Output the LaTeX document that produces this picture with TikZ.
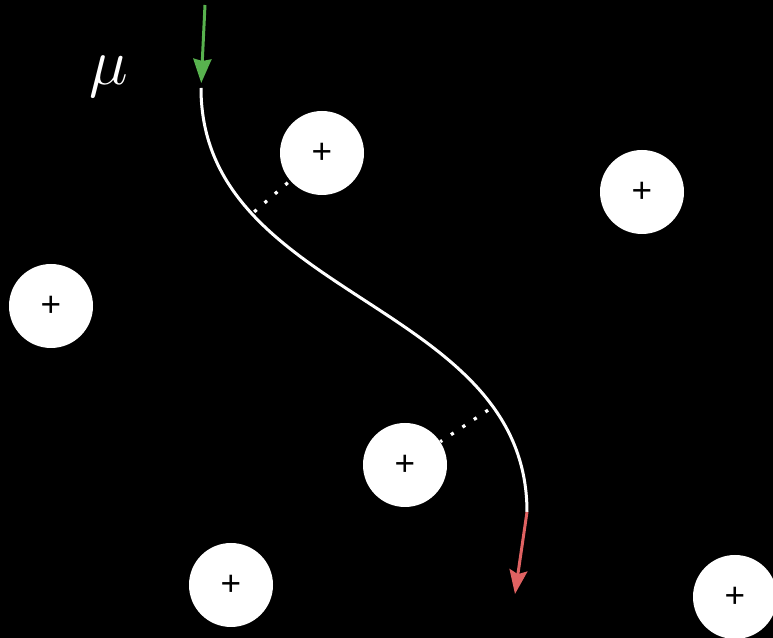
\documentclass[tikz,border=0pt]{standalone}
\usepackage{fontspec}
\newfontfamily\plusfont{Liberation Sans}
\usepackage{tikz}
\usetikzlibrary{arrows.meta, positioning}
\definecolor{ChargeWhite}{RGB}{255, 255, 255}
\definecolor{InGreen}{RGB}{88, 178, 78}
\definecolor{OutRed}{RGB}{224, 98, 98}

\begin{document}
\begin{tikzpicture}[
                ion/.style={circle, fill=ChargeWhite, minimum size=1.68cm, inner sep=0pt, text=black, font=\plusfont\fontsize{20}{20}\selectfont},
                track/.style={draw=ChargeWhite, line width=0.06cm},
                arrowin/.style={draw=InGreen, line width=0.06cm, -{Stealth[length=0.48cm, width=0.36cm, inset=0.04cm]}},
                arrowout/.style={draw=OutRed, line width=0.06cm, -{Stealth[length=0.48cm, width=0.36cm, inset=0.08cm]}},
                kick/.style={draw=ChargeWhite, line width=0.065cm, dash pattern=on 0.065cm off 0.21cm}
            ]
                \fill[black] (0,0) rectangle (15.46,12.76);
                \useasboundingbox (0,0) rectangle (15.46,12.76);

                \node (i1) [ion] at (6.44, 9.70) {\raisebox{-1pt}{+}};
                \node (i2) [ion] at (12.84, 8.92) {\raisebox{-1pt}{+}};
                \node (i3) [ion] at (1.02, 6.64) {\raisebox{-1pt}{+}};
                \node (i4) [ion] at (8.10, 3.46) {\raisebox{-1pt}{+}};
                \node (i5) [ion] at (4.62, 1.06) {\raisebox{-1pt}{+}};
                \node (i6) [ion] at (14.70, 0.82) {\raisebox{-1pt}{+}};

                \node (mu) [text=ChargeWhite, font=\Huge, scale=1.5] at (2.18, 11.22) {$\mu$};

                \coordinate (in) at (4.10, 12.66);
                \coordinate (start) at (4.02, 11.00);
                \coordinate (stop) at (10.54, 2.52);
                \coordinate (out) at (10.30, 0.88);

                \draw [track] (start) .. controls (4.02, 6.76) and (10.54, 6.76) .. coordinate[pos=0.25] (p1) coordinate[pos=0.8] (p2) (stop);

                \draw [kick, shorten <=0.06cm] (p1) -- (i1);
                \draw [kick, shorten <=0.12cm] (p2) -- (i4);

                \draw [arrowin, shorten >=0.10cm] (in) -- (start);
                \draw [arrowout] (stop) -- (out);
            \end{tikzpicture}
\end{document}
